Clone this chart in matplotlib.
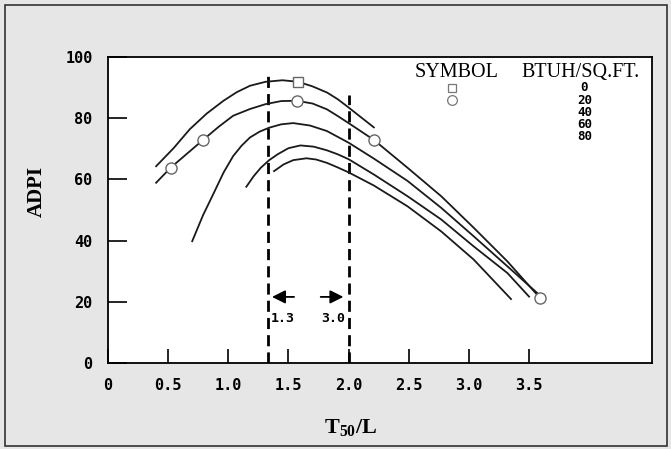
import numpy as np
import matplotlib.pyplot as plt
from matplotlib.patches import Rectangle

plt.rcParams['mathtext.fontset'] = 'custom'
plt.rcParams['mathtext.bf'] = 'Liberation Serif:bold'
plt.rcParams['mathtext.rm'] = 'Liberation Serif'

# curves, one per heat load (BTUH/SQ.FT.)
x0 = [0.40, 0.545, 0.68, 0.82, 0.96, 1.07, 1.18, 1.31, 1.45, 1.58, 1.70, 1.82, 1.91, 2.00, 2.10, 2.21]
y0 = [64.3, 70.2, 76.4, 81.5, 85.7, 88.5, 90.6, 91.9, 92.4, 91.9, 90.4, 88.4, 86.2, 83.5, 80.4, 77.0]

x20 = [0.40, 0.52, 0.79, 0.92, 1.04, 1.18, 1.31, 1.44, 1.57, 1.70, 1.82, 1.91, 2.00, 2.21,
       2.49, 2.77, 3.04, 3.32, 3.59]
y20 = [58.9, 63.8, 72.9, 77.2, 80.8, 83.0, 84.6, 85.6, 85.7, 84.8, 82.9, 80.7, 78.4, 72.9,
       63.8, 54.5, 44.2, 33.2, 21.3]

x40 = [0.70, 0.79, 0.88, 0.96, 1.04, 1.11, 1.18, 1.26, 1.34, 1.44, 1.54, 1.68, 1.82, 2.00,
       2.21, 2.49, 2.77, 3.04, 3.32, 3.57]
y40 = [39.8, 48.3, 55.6, 62.2, 67.6, 71.0, 73.7, 75.6, 76.9, 78.0, 78.4, 77.6, 75.8, 72.0,
       66.8, 59.5, 50.7, 41.4, 31.6, 22.8]

x60 = [1.15, 1.21, 1.27, 1.34, 1.41, 1.50, 1.60, 1.71, 1.82, 1.91, 2.00, 2.21, 2.49, 2.77,
       3.04, 3.32, 3.50]
y60 = [57.6, 61.0, 63.8, 66.3, 68.2, 70.2, 71.1, 70.7, 69.5, 68.2, 66.6, 61.6, 54.5, 46.9,
       38.1, 29.4, 21.7]

x80 = [1.38, 1.46, 1.54, 1.65, 1.73, 1.82, 1.91, 2.00, 2.21, 2.49, 2.77, 3.04, 3.35]
y80 = [62.7, 64.9, 66.3, 66.9, 66.5, 65.4, 63.9, 62.3, 58.0, 51.2, 43.0, 33.8, 20.9]

# test points marked on the 0 and 20 curves
sq_x = [1.58]
sq_y = [91.9]
circ_x = [0.52, 0.79, 1.57, 2.21, 3.59]
circ_y = [63.8, 72.9, 85.7, 72.9, 21.3]

# range limits (dashed lines)
dash_x = [1.33, 2.00]
dash_top = [94.4, 87.5]
range_labels = ['1.3', '3.0']

loads = ['0', '20', '40', '60', '80']
xticks = [0, 0.5, 1.0, 1.5, 2.0, 2.5, 3.0, 3.5]
xticklabels = ['0', '0.5', '1.0', '1.5', '2.0', '2.5', '3.0', '3.5']
yticks = [0, 20, 40, 60, 80, 100]

W, H = 671, 449
fig = plt.figure(figsize=(W / 100, H / 100), dpi=100, facecolor='#e6e6e6')
ax = fig.add_axes([108 / W, 1 - 363 / H, 544 / W, 306 / H])
ax.set_facecolor('white')

fig.patches.append(Rectangle((5 / W, 3 / H), 662 / W, 441 / H, transform=fig.transFigure,
                             fill=False, edgecolor='#333333', lw=1.2))

lc = '#1a1a1a'
for xs, ys in [(x0, y0), (x20, y20), (x40, y40), (x60, y60), (x80, y80)]:
    ax.plot(xs, ys, color=lc, lw=1.3, zorder=3, solid_joinstyle='round')

ax.plot(sq_x, sq_y, 's', ms=7, mfc='white', mec='#666666', mew=1.0, zorder=4)
ax.plot(circ_x, circ_y, 'o', ms=8, mfc='white', mec='#666666', mew=1.0, zorder=4)

for xd, yt in zip(dash_x, dash_top):
    ax.plot([xd, xd], [0, yt], color='black', lw=2.0, ls=(0, (4, 2.2)), zorder=2)

# arrows pointing at the dashed limits
ax.annotate('', xy=(dash_x[0] + 0.01, 21.6), xytext=(dash_x[0] + 0.24, 21.6),
            arrowprops=dict(arrowstyle='-|>', mutation_scale=20, color='black', lw=1.3))
ax.annotate('', xy=(dash_x[1] - 0.02, 21.6), xytext=(dash_x[1] - 0.255, 21.6),
            arrowprops=dict(arrowstyle='-|>', mutation_scale=20, color='black', lw=1.3))
numfont = dict(family='DejaVu Sans Mono', fontweight='bold')
ax.text(1.455, 14.7, range_labels[0], ha='center', va='center', fontsize=9.5, **numfont)
ax.text(1.87, 14.7, range_labels[1], ha='center', va='center', fontsize=9.5, **numfont)

# legend block
ax.text(2.90, 94.8, 'SYMBOL', ha='center', va='center', fontsize=14.5, family='Liberation Serif')
ax.text(3.93, 94.8, 'BTUH/SQ.FT.', ha='center', va='center', fontsize=14.5, family='Liberation Serif')
rows = [89.9, 85.9, 81.9, 77.9, 73.9]
for r, lab in zip(rows, loads):
    ax.text(3.96, r, lab, ha='center', va='center', fontsize=9, **numfont)
ax.plot([2.86], [rows[0]], 's', ms=6, mfc='white', mec='#777777', mew=0.9, clip_on=False)
ax.plot([2.86], [rows[1]], 'o', ms=7, mfc='white', mec='#777777', mew=0.9, clip_on=False)

ax.set_xlim(0, 544 / 120.3)
ax.set_ylim(0, 100)
ax.set_xticks(xticks)
ax.set_xticklabels(xticklabels)
ax.set_yticks(yticks)
ax.tick_params(axis='x', direction='in', length=10, width=1.2, pad=11)
ax.tick_params(axis='y', direction='in', length=14, width=1.2, pad=11)
for lab in ax.get_xticklabels() + ax.get_yticklabels():
    lab.set_family('DejaVu Sans Mono')
    lab.set_fontweight('bold')
    lab.set_fontsize(11)
for s in ax.spines.values():
    s.set_linewidth(1.3)

ax.set_ylabel('ADPI', family='Liberation Serif', fontweight='bold', fontsize=15)
ax.yaxis.set_label_coords(-0.112, 0.56)
ax.set_xlabel(r'$\mathbf{T}_{\mathbf{50}}\mathbf{/L}$', fontsize=16)
ax.xaxis.set_label_coords(243 / 544, -54 / 306)

fig.savefig('out.png', dpi=100, facecolor=fig.get_facecolor())
